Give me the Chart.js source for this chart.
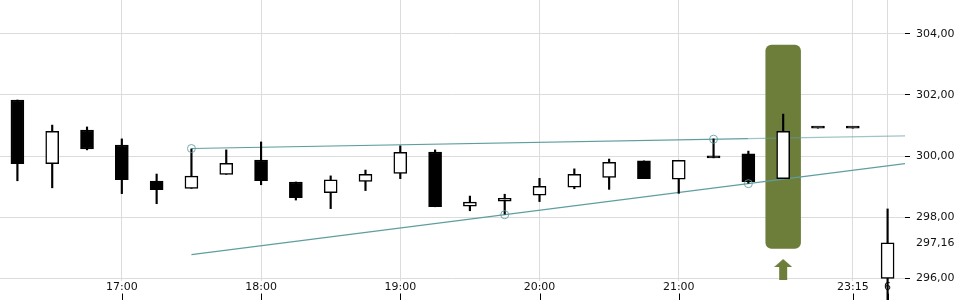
<!DOCTYPE html>
<html>
<head>
<meta charset="utf-8">
<script src="https://cdn.jsdelivr.net/npm/chart.js@4"></script>
<style>
  body { margin: 0; background: #fff; }
  #wrap { width: 960px; height: 300px; position: relative; }
</style>
</head>
<body>
<div id="wrap"><canvas id="myChart"></canvas></div>
<script>
// 15 minute candles
const times = ['16:15', '16:30', '16:45', '17:00', '17:15', '17:30', '17:45', '18:00', '18:15', '18:30', '18:45', '19:00', '19:15',
  '19:30', '19:45', '20:00', '20:15', '20:30', '20:45', '21:00', '21:15', '21:30', '21:45', '23:00', '23:15', '6'];
const shownLabels = ['17:00', '18:00', '19:00', '20:00', '21:00', '23:15', '6'];

const openValues = [301.83, 299.75, 300.85, 300.36, 299.18, 298.94, 299.40, 299.87, 299.15, 298.80, 299.17, 299.43, 300.13,
  298.36, 298.52, 298.72, 298.98, 299.30, 299.84, 299.24, 299.95, 300.07, 299.26, 300.91, 300.91, 296.00];
const highValues = [301.83, 301.01, 300.95, 300.56, 299.41, 300.23, 300.20, 300.46, 299.15, 299.35, 299.54, 300.33, 300.20,
  298.69, 298.75, 299.27, 299.58, 299.90, 299.84, 299.86, 300.56, 300.16, 301.37, 300.91, 300.91, 298.27];
const lowValues = [299.19, 298.96, 300.20, 298.77, 298.44, 298.94, 299.40, 299.06, 298.56, 298.28, 298.87, 299.26, 298.34,
  298.21, 298.10, 298.51, 298.93, 298.91, 299.26, 298.78, 299.94, 299.11, 299.26, 300.91, 300.91, 295.25];
const closeValues = [299.75, 300.81, 300.23, 299.23, 298.90, 299.34, 299.76, 299.19, 298.64, 299.22, 299.40, 300.12, 298.34,
  298.49, 298.62, 299.01, 299.40, 299.79, 299.26, 299.86, 299.94, 299.16, 300.81, 300.91, 300.91, 297.16];

const yTicks = [296, 297.16, 298, 300, 302, 304];
const lastPrice = 297.16;

// trend lines (x = candle index)
const upperTrend = [{ x: 5, y: 300.245 }, { x: 21, y: 300.57 }];
const upperTrendExt = [{ x: 21, y: 300.57 }, { x: 25.5, y: 300.66 }];
const lowerTrend = [{ x: 5, y: 296.775 }, { x: 25.5, y: 299.75 }];
const pivots = [{ x: 5, y: 300.245 }, { x: 20, y: 300.55 }, { x: 14, y: 298.08 }, { x: 21, y: 299.095 }];

// signal marker
const highlightIndex = 22;
const highlightRange = [296.98, 303.63];
const arrowPoint = [{ x: 22, y: 296.29 }];

const olive = '#6c7e3a';
const teal = '#5f9ea0';
const gridColor = '#dcdcdc';

function makeArrow() {
  let c = document.createElement('canvas');
  c.width = 18;
  c.height = 21;
  let g = c.getContext('2d');
  g.fillStyle = olive;
  g.beginPath();
  g.moveTo(0, 8);
  g.lineTo(9, 0);
  g.lineTo(18, 8);
  g.closePath();
  g.fill();
  g.fillRect(5, 7, 8, 14);
  return c;
}

function noPadding(s) {
  s.paddingTop = 0;
  s.paddingBottom = 0;
  s.paddingLeft = 0;
  s.paddingRight = 0;
}

const bodies = openValues.map((o, i) => [o, closeValues[i]]);
const wicks = lowValues.map((l, i) => [l, highValues[i]]);
const bodyColors = openValues.map((o, i) => (closeValues[i] > o ? '#ffffff' : '#000000'));
const highlight = times.map((t, i) => (i === highlightIndex ? highlightRange : null));

Chart.defaults.font.family = 'DejaVu Sans';
Chart.defaults.font.size = 11;
Chart.defaults.color = '#111';

const bottomTicks = {
  id: 'bottomTicks',
  afterDraw(chart) {
    const xs = chart.scales.x;
    const ctx = chart.ctx;
    ctx.save();
    ctx.strokeStyle = '#000';
    ctx.lineWidth = 1;
    xs.ticks.forEach((t, i) => {
      if (!shownLabels.includes(times[i])) return;
      const px = Math.round(xs.getPixelForTick(i)) + 0.5;
      ctx.beginPath();
      ctx.moveTo(px, chart.chartArea.bottom + 13);
      ctx.lineTo(px, 300);
      ctx.stroke();
    });
    ctx.restore();
  },
};

const config = {
  type: 'bar',
  data: {
    labels: times,
    datasets: [
      {
        data: highlight,
        backgroundColor: olive,
        borderRadius: 6,
        borderSkipped: false,
        barPercentage: 1,
        categoryPercentage: 1,
        grouped: false,
        order: 10,
      },
      {
        type: 'line',
        xAxisID: 'x2',
        data: upperTrend,
        borderColor: teal,
        borderWidth: 1.2,
        pointRadius: 0,
        order: 6,
      },
      {
        type: 'line',
        xAxisID: 'x2',
        data: upperTrendExt,
        borderColor: 'rgba(95,158,160,0.6)',
        borderWidth: 1.2,
        pointRadius: 0,
        order: 6,
      },
      {
        type: 'line',
        xAxisID: 'x2',
        data: lowerTrend,
        borderColor: teal,
        borderWidth: 1.2,
        pointRadius: 0,
        order: 6,
      },
      {
        data: wicks,
        backgroundColor: '#000',
        barThickness: 1.5,
        grouped: false,
        clip: false,
        order: 4,
      },
      {
        data: bodies,
        backgroundColor: bodyColors,
        borderColor: '#000',
        borderWidth: 1.5,
        borderSkipped: false,
        barThickness: 13,
        minBarLength: 2,
        grouped: false,
        order: 3,
      },
      {
        type: 'line',
        xAxisID: 'x2',
        data: pivots,
        showLine: false,
        pointRadius: 4,
        pointBackgroundColor: 'rgba(0,0,0,0)',
        pointBorderColor: 'rgba(95,158,160,0.85)',
        pointBorderWidth: 1,
        order: 2,
      },
      {
        type: 'line',
        xAxisID: 'x2',
        data: arrowPoint,
        showLine: false,
        pointStyle: makeArrow(),
        clip: false,
        order: 1,
      },
    ],
  },
  options: {
    responsive: true,
    maintainAspectRatio: false,
    animation: false,
    layout: { padding: 0, autoPadding: false },
    plugins: {
      legend: { display: false },
      tooltip: { enabled: false },
    },
    scales: {
      x: {
        type: 'category',
        offset: true,
        border: { display: false },
        grid: {
          offset: false,
          drawTicks: false,
          color: (ctx) => (shownLabels.includes(times[ctx.index]) ? gridColor : 'rgba(0,0,0,0)'),
        },
        ticks: {
          autoSkip: false,
          maxRotation: 0,
          padding: 0,
          color: '#111',
          callback: function (value, index) {
            return shownLabels.includes(times[index]) ? times[index] : '';
          },
        },
        afterFit: (s) => {
          s.height = 19.5;
          noPadding(s);
        },
      },
      x2: {
        type: 'linear',
        display: false,
        offset: false,
        min: -0.5,
        max: 25.5,
      },
      y: {
        position: 'right',
        min: 295.93,
        max: 305.1,
        border: { display: false },
        grid: {
          color: (ctx) => (ctx.tick && ctx.tick.value === lastPrice ? 'rgba(0,0,0,0)' : gridColor),
          tickColor: (ctx) => (ctx.tick && ctx.tick.value === lastPrice ? 'rgba(0,0,0,0)' : '#000'),
          tickLength: 5,
        },
        ticks: {
          padding: 6,
          color: '#111',
          callback: (v) => Number(v).toFixed(2).replace('.', ','),
        },
        afterBuildTicks: (axis) => {
          axis.ticks = yTicks.map((v) => ({ value: v }));
        },
        afterFit: (s) => {
          s.width = 55;
          noPadding(s);
        },
      },
    },
  },
  plugins: [bottomTicks],
};

const myChart = new Chart(document.getElementById('myChart'), config);
</script>
</body>
</html>
